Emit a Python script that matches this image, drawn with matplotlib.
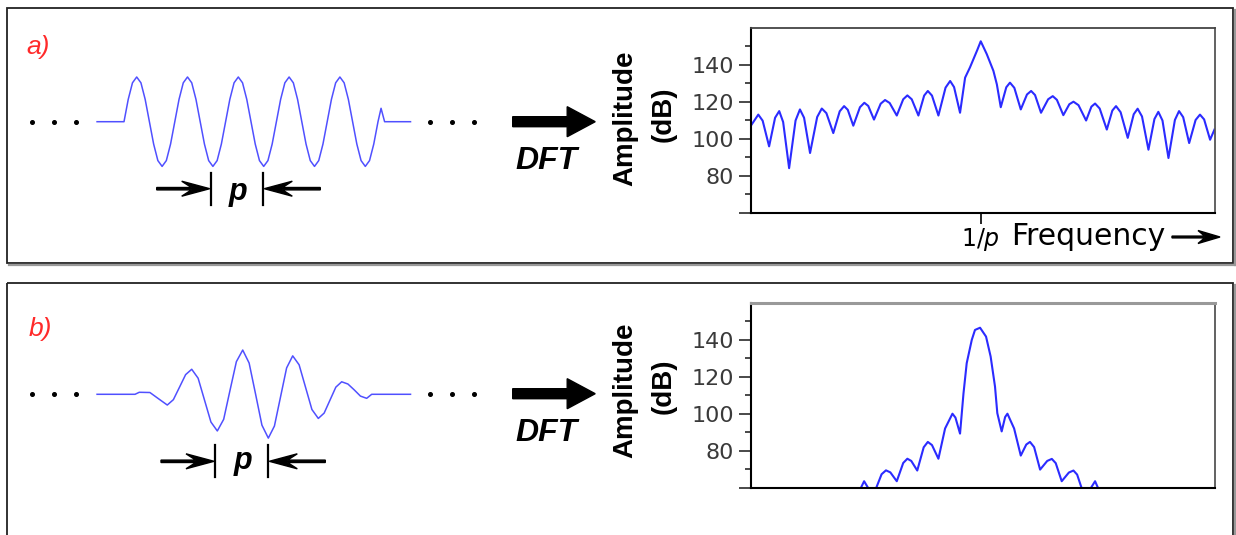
import matplotlib
matplotlib.use('Agg')
import matplotlib.pyplot as plt
import numpy as np
from matplotlib.patches import Rectangle

# ---- data ----
# time signals: t in periods p, amplitude normalised to the burst amplitude
# (a) five-period sine burst, sampled every 1/12 period
burst_a_v = [0, .5, .87, 1, .87, .5, 0, -.5, -.87, -1, -.87, -.5,
             0, .5, .87, 1, .87, .5, 0, -.5, -.87, -1, -.87, -.5,
             0, .5, .87, 1, .87, .5, 0, -.5, -.87, -1, -.87, -.5,
             0, .5, .87, 1, .87, .5, 0, -.5, -.87, -1, -.87, -.5,
             0, .5, .87, 1, .87, .5, 0, -.5, -.87, -1, -.87, -.5, 0]
burst_a_t = np.linspace(0, 5, len(burst_a_v))
lead_a_t, lead_a_v = [-0.53], [0]
tail_a_t, tail_a_v = [5.06, 5.13, 5.64], [.30, 0, 0]

# (b) windowed burst
wave_b_t = [-0.53, 0.217, 0.30, 0.51, 0.68, 0.852, 0.972, 1.093, 1.213,
            1.333, 1.459, 1.585, 1.711, 1.837, 1.962, 2.087, 2.212,
            2.337, 2.463, 2.589, 2.715, 2.841, 2.961, 3.081, 3.201,
            3.321, 3.447, 3.573, 3.699, 3.825, 3.94, 4.055, 4.17,
            4.285, 4.408, 4.531, 4.654, 4.777, 4.876, 5.64]
wave_b_v = [0, 0, .045, .04, -.10, -.24, -.12, .16, .44,
            .56, .36, -.13, -.62, -.82, -.56, .09, .73,
            .99, .70, .01, -.69, -.98, -.71, -.06, .59,
            .86, .66, .16, -.34, -.54, -.42, -.13, .16,
            .28, .23, .10, -.04, -.09, 0, 0]

# spectra: frequency in units of 1/p, amplitude in dB
spec_a_f = [0.004, 0.033, 0.052, 0.080, 0.106, 0.124, 0.141, 0.167, 0.195, 0.214,
            0.232, 0.258, 0.289, 0.309, 0.329, 0.359, 0.387, 0.406, 0.422, 0.446,
            0.475, 0.494, 0.511, 0.536, 0.565, 0.584, 0.604, 0.635, 0.663, 0.681,
            0.700, 0.729, 0.754, 0.770, 0.788, 0.816, 0.847, 0.867, 0.884, 0.910,
            0.932, 0.953, 0.985, 1.000, 1.026, 1.055, 1.070, 1.087, 1.111, 1.127,
            1.146, 1.174, 1.201, 1.219, 1.236, 1.262, 1.293, 1.313, 1.331, 1.359,
            1.385, 1.403, 1.425, 1.458, 1.481, 1.497, 1.517, 1.548, 1.572, 1.588,
            1.608, 1.639, 1.665, 1.682, 1.701, 1.729, 1.755, 1.772, 1.790, 1.816,
            1.844, 1.862, 1.880, 1.906, 1.934, 1.953, 1.971, 1.997, 2.016]
spec_a_db = [107.6, 113, 109.7, 95.8, 111.3, 114.9, 109.0, 84, 109.8, 115.8,
             111.3, 92.2, 111.7, 116.3, 113.8, 103, 114.8, 117.6, 115.6, 107,
             117.0, 119.4, 117.7, 110.3, 118.9, 120.9, 119.3, 112.5, 121.3, 123.4,
             121.3, 112.5, 123.3, 125.8, 123.3, 112.5, 127.6, 131.2, 127.9, 114,
             133, 138.5, 148, 152.7, 145.8, 136.7, 129.4, 117, 127.8, 130.3,
             127.5, 115.8, 123.9, 125.8, 123.6, 114, 121.3, 123, 121.0, 112.7,
             118.6, 120, 118.1, 109.8, 117.3, 119, 116.3, 104.9, 115.2, 117.6,
             114.3, 100.4, 113.2, 116.2, 112.0, 94, 110.6, 114.5, 109.8, 89.5,
             110.1, 114.9, 111.6, 97.6, 110.1, 113, 110.4, 99.4, 104.9]

spec_b_f = [0.472, 0.493, 0.519, 0.540, 0.569, 0.588, 0.607, 0.635, 0.663, 0.681,
            0.698, 0.724, 0.752, 0.770, 0.788, 0.816, 0.845, 0.877, 0.890, 0.910,
            0.925, 0.939, 0.961, 0.975, 0.997, 1.023, 1.043, 1.062, 1.072, 1.091,
            1.106, 1.116, 1.145, 1.174, 1.198, 1.214, 1.232, 1.258, 1.289, 1.309,
            1.326, 1.352, 1.383, 1.403, 1.419, 1.443, 1.470, 1.497, 1.516]
spec_b_db = [58, 63.4, 58, 58, 67.2, 69.3, 68.2, 63.4, 73.3, 75.6,
             74.4, 69.2, 81.8, 84.7, 83.0, 75.6, 92, 100, 97.9, 89.2,
             111, 127.4, 140, 145.4, 146.6, 141.8, 131, 114.7, 100.3, 90.4,
             98.2, 100, 92, 77.3, 83.3, 84.7, 81.9, 69.7, 74.4, 75.5,
             73.2, 63.4, 68.1, 69.2, 67, 58, 58, 63.4, 58]

ytick_major = [60, 80, 100, 120, 140]
ytick_labels = ['', '80', '100', '120', '140']
ytick_minor = [70, 90, 110, 130, 150]

W, H = 1236, 535
BLUE = '#2b2bff'
WAVE = '#5050ff'
RED = '#ff2a2a'

fig = plt.figure(figsize=(W / 100, H / 100), dpi=100)

# overlay in pixel units for frames, arrows and labels
ov = fig.add_axes([0, 0, 1, 1])
ov.set_xlim(0, W)
ov.set_ylim(H, 0)
ov.axis('off')


def px_rect(x0, y0, x1, y1):
    return [x0 / W, 1 - y1 / H, (x1 - x0) / W, (y1 - y0) / H]


# panel frames with a grey shadow on right/bottom
for top, bottom in [(8.3, 263.3), (283, 600)]:
    ov.add_patch(Rectangle((7.3, top), 1226, bottom - top, fill=False,
                           ec='#222222', lw=1.3))
    ov.plot([1235, 1235], [top + 2, bottom + 2], color='#999999', lw=1.6)
    ov.plot([9, 1235], [bottom + 2, bottom + 2], color='#999999', lw=1.6)

wave_a_t = lead_a_t + list(burst_a_t) + tail_a_t
wave_a_v = lead_a_v + burst_a_v + tail_a_v

T0, TP, AP = 124, 50.8, 44.7   # pixel x of t=0, pixels per period, pixels per unit amplitude
panels = [
    dict(off=0, base=121.7, wt=wave_a_t, wv=wave_a_v, label='a)', lab_xy=(26, 54),
         f=spec_a_f, db=spec_a_db, sp_top=27.8, sp_bot=212.5,
         bars=(210.7, 263.3), p_base=200),
    dict(off=272, base=394.3, wt=wave_b_t, wv=wave_b_v, label='b)', lab_xy=(29, 336),
         f=spec_b_f, db=spec_b_db, sp_top=303, sp_bot=487.5,
         bars=(215, 268.3), p_base=469),
]

for i, P in enumerate(panels):
    base = P['base']
    # time signal
    wx0, wx1, wy0, wy1 = 90, 420, base - 70, base + 70
    wax = fig.add_axes(px_rect(wx0, wy0, wx1, wy1))
    wax.set_xlim((wx0 - T0) / TP, (wx1 - T0) / TP)
    wax.set_ylim((base - wy1) / AP, (base - wy0) / AP)
    wax.axis('off')
    wax.plot(P['wt'], P['wv'], color=WAVE, lw=1.1)

    # dotted continuation
    ov.plot([32.3, 54.3, 76, 430, 452.3, 474], [base] * 6, 'o', color='k',
            ms=2.6, ls='none')

    # period marker
    b1, b2 = P['bars']
    ym = base + 67
    for bx in (b1, b2):
        ov.plot([bx, bx], [ym - 16, ym + 16], color='k', lw=1.6)
    ov.arrow(b1 - 54, ym, 53, 0, width=2.4, head_width=15, head_length=28,
             overhang=0.35, length_includes_head=True, color='k')
    ov.arrow(b2 + 57, ym, -56, 0, width=2.4, head_width=15, head_length=28,
             overhang=0.35, length_includes_head=True, color='k')
    ov.text((b1 + b2) / 2 + 1, P['p_base'], 'p', fontsize=22, fontweight='bold',
            fontstyle='italic', family='Liberation Sans', ha='center', va='baseline')

    ov.text(P['lab_xy'][0], P['lab_xy'][1], P['label'], color=RED, fontsize=19,
            fontstyle='italic', family='Liberation Sans', ha='left', va='baseline')

    # DFT arrow and text
    ay = 121.7 + P['off']
    ov.arrow(512.7, ay, 82.5, 0, width=10, head_width=30, head_length=28,
             length_includes_head=True, color='k')
    ov.text(546, ay + 39, 'DFT', fontsize=23, fontweight='bold', fontstyle='italic',
            family='Liberation Sans', ha='center', va='center')
    ov.text(625, ay - 3, 'Amplitude', rotation=90, fontsize=20, fontweight='bold',
            family='Liberation Sans', ha='center', va='center')
    ov.text(664, ay - 7, '(dB)', rotation=90, fontsize=20, fontweight='bold',
            family='Liberation Sans', ha='center', va='center')

    # spectrum
    ax = fig.add_axes(px_rect(750.7, P['sp_top'], 1214.7, P['sp_bot']))
    ax.plot(P['f'], P['db'], color=BLUE, lw=1.5)
    ax.set_xlim(0, 2.017)
    ax.set_ylim(60, 160)
    ax.set_yticks(ytick_major)
    ax.set_yticklabels(ytick_labels)
    ax.set_yticks(ytick_minor, minor=True)
    ax.tick_params(axis='y', which='major', length=9, width=1.3, pad=3,
                   labelsize=16, colors='#3a3a3a', direction='out')
    ax.tick_params(axis='y', which='minor', length=4, width=1.3, color='#3a3a3a',
                   direction='out')
    for lab in ax.get_yticklabels():
        lab.set_family('DejaVu Sans')
    ax.spines['left'].set_linewidth(1.5)
    ax.spines['bottom'].set_linewidth(1.5)
    ax.spines['right'].set_color('#555555')
    ax.spines['right'].set_linewidth(1.3)
    if i == 0:
        ax.spines['top'].set_color('#444444')
        ax.spines['top'].set_linewidth(1.3)
        ax.set_xticks([1.0])
        ax.set_xticklabels([r'1/$\mathit{p}$'])
        ax.tick_params(axis='x', length=8, width=1.2, pad=2, labelsize=17,
                       direction='out')
    else:
        ax.spines['top'].set_color('#999999')
        ax.spines['top'].set_linewidth(2.2)
        ax.set_xticks([])

# frequency axis caption
ov.text(1011, 245, 'Frequency', fontsize=21.5, family='DejaVu Sans',
        ha='left', va='baseline')
ov.arrow(1172, 237, 48, 0, width=1.8, head_width=13, head_length=22,
         overhang=0.3, length_includes_head=True, color='k')

fig.savefig('out.png', dpi=100)
